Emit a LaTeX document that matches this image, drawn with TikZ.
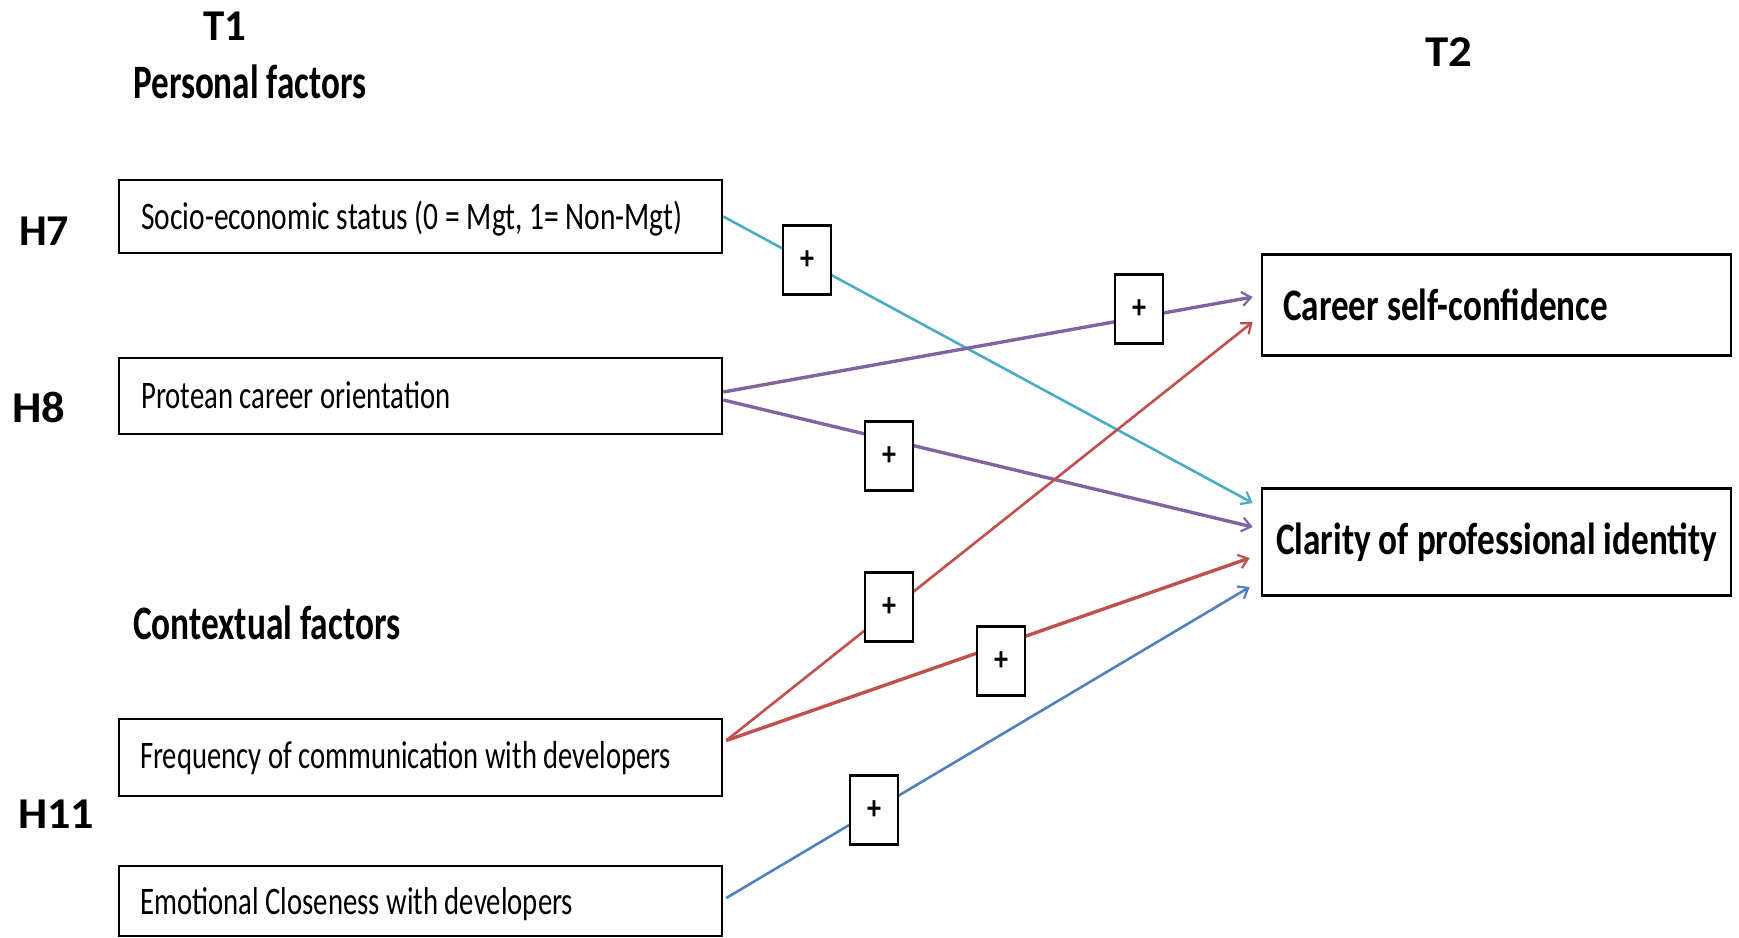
\documentclass[tikz,border=0pt]{standalone}
\usepackage{fontspec}
\setmainfont{Carlito}
\usepackage{graphicx}
\usetikzlibrary{arrows.meta,calc}
\definecolor{cAqua}{HTML}{4BACC6}
\definecolor{cPurp}{HTML}{8064A2}
\definecolor{cRed}{HTML}{C0504D}
\definecolor{cBlue}{HTML}{4F81BD}
\newcommand\fitw[2]{\resizebox{#1}{\height}{#2}}
\begin{document}
\begin{tikzpicture}[x=1pt,y=-1pt,
  lbox/.style={draw=black,line width=2.6pt,fill=white,minimum width=603pt,inner sep=0pt},
  rbox/.style={draw=black,line width=2.6pt,fill=white,minimum width=469pt,inner sep=0pt},
  pbox/.style={draw=black,line width=2.6pt,fill=white,minimum width=48pt,minimum height=69pt,inner sep=0pt},
  plus/.style={inner sep=0pt,font=\fontsize{34}{34}\selectfont\bfseries},
  hlab/.style={font=\fontsize{44}{44}\selectfont\bfseries,inner sep=0pt,anchor=base west},
  ttl/.style={font=\fontsize{48}{48}\selectfont\bfseries,anchor=base west,inner sep=0pt},
  btxt/.style={font=\fontsize{39}{39}\selectfont,anchor=base west,inner sep=0pt},
  rtxt/.style={font=\fontsize{45}{45}\selectfont\bfseries,anchor=base west,inner sep=0pt},
  conn/.style={line width=2.6pt,-{Straight Barb[length=9pt,width=14pt,line width=2.2pt]}},
  connw/.style={conn,line width=3.4pt}
]
\useasboundingbox (0,0) rectangle (1739,937);

% headings
\node[hlab] (t1) at (203,40) {\fitw{43pt}{T1}};
\node[hlab] (t2) at (1425,66) {\fitw{47pt}{T2}};
\node[ttl] (pf) at (133,98) {\fitw{233pt}{Personal factors}};
\node[ttl] (cf) at (133,639) {\fitw{267pt}{Contextual factors}};
\node[hlab] (h7) at (19,245) {\fitw{50pt}{H7}};
\node[hlab] (h8) at (12,422) {\fitw{53pt}{H8}};
\node[hlab] (h11) at (18,828) {\fitw{76pt}{H11}};

% left boxes
\node[lbox,minimum height=73pt] (b1) at (420.5,216.5) {};
\node[lbox,minimum height=76pt] (b2) at (420.5,396) {};
\node[lbox,minimum height=77pt] (b3) at (420.5,757.5) {};
\node[lbox,minimum height=70pt] (b4) at (420.5,901) {};
\node[btxt] (b1t) at (141,229) {\fitw{541pt}{Socio-economic status (0 = Mgt, 1= Non-Mgt)}};
\node[btxt] (b2t) at (141,408) {\fitw{309pt}{Protean career orientation}};
\node[btxt] (b3t) at (140,768) {\fitw{531pt}{Frequency of communication with developers}};
\node[btxt] (b4t) at (140,914) {\fitw{433pt}{Emotional Closeness with developers}};

% right boxes
\node[rbox,minimum height=101pt] (r1) at (1496.5,305) {};
\node[rbox,minimum height=107pt] (r2) at (1496.5,542) {};
\node[rtxt] (r1t) at (1283,320) {\fitw{325pt}{Career self-confidence}};
\node[rtxt] (r2t) at (1276,554) {\fitw{441pt}{Clarity of professional identity}};

% arrow end points
\coordinate (eA) at ($(r2.west)+(-8,-39)$);
\coordinate (eP1) at ($(r1.west)+(-8,-8)$);
\coordinate (eP2) at ($(r2.west)+(-8,-15)$);
\coordinate (eR1) at ($(r1.west)+(-8,17)$);
\coordinate (eR2) at ($(r2.west)+(-11,16)$);
\coordinate (eB) at ($(r2.west)+(-11,45)$);

% connectors
\draw[conn,cAqua] (b1.east) -- (eA);
\draw[connw,cPurp] ($(b2.east)+(0,-4)$) -- (eP1);
\draw[connw,cPurp] ($(b2.east)+(0,4)$) -- (eP2);
\draw[conn,cRed] ($(b3.east)+(3,-17)$) -- (eR1);
\draw[connw,cRed] ($(b3.east)+(3,-17)$) -- (eR2);
\draw[conn,cBlue] ($(b4.east)+(3,-3)$) -- (eB);

% plus boxes
\node[pbox] (p1) at (807,260) {};
\node[pbox] (p2) at (1139,309) {};
\node[pbox] (p3) at (889,456) {};
\node[pbox] (p4) at (889,607) {};
\node[pbox] (p5) at (1001,661) {};
\node[pbox] (p6) at (874,810) {};
\foreach \p in {p1,p2,p3,p4,p5,p6}
  \node[plus] (\p s) at (\p.center) {\fitw{14pt}{+}};
\end{tikzpicture}
\end{document}
